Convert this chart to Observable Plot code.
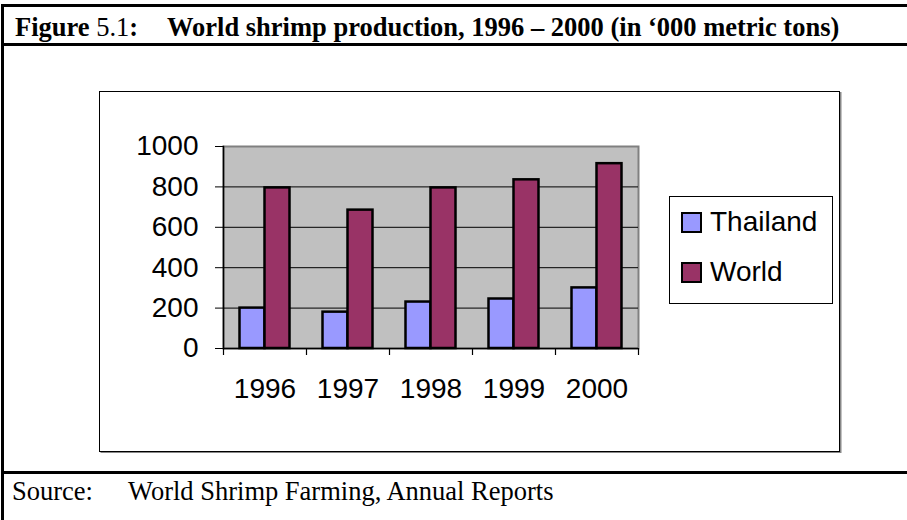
<!DOCTYPE html>
<html>
<head>
<meta charset="utf-8">
<script src="https://cdn.jsdelivr.net/npm/d3@7"></script>
<script src="https://cdn.jsdelivr.net/npm/@observablehq/plot@0.6"></script>
<style>
  html, body { margin: 0; padding: 0; background: #fff; }
  #page { position: relative; width: 907px; height: 520px; overflow: hidden; background: #fff; }
  .hline { position: absolute; left: 2px; right: 0; height: 2.5px; background: #000; }
  .vline { position: absolute; left: 1px; width: 2.5px; top: 4px; bottom: 0; background: #000; }
  .serif { font-family: "Liberation Serif", "Times New Roman", serif; color: #000; position: absolute; white-space: nowrap; line-height: 1; }
  #title1 { left: 15px; top: 14px; font-size: 26.5px; }
  #title2 { left: 167px; top: 14px; font-size: 26.5px; font-weight: bold; }
  #src1 { left: 12px; top: 478px; font-size: 26.5px; }
  #src2 { left: 128px; top: 478px; font-size: 26.5px; }
  #chartbox { position: absolute; left: 99px; top: 91px; width: 739px; height: 359px; border: 1.5px solid #000; box-shadow: 1.5px 1px 0 #888; background: #fff; }
  #plot { position: absolute; left: 0; top: 0; }
  #legend { position: absolute; left: 569px; top: 104px; width: 162px; height: 106px; border: 1px solid #000; background: #fff;
            font-family: "Liberation Sans", Arial, sans-serif; font-size: 28px; }
  .item { position: absolute; left: 11px; display: flex; align-items: center; }
  .sw { width: 17px; height: 17px; border: 2.5px solid #000; margin-right: 8px; }
</style>
</head>
<body>
<div id="page">
  <div class="hline" style="top:4px"></div>
  <div class="hline" style="top:43px"></div>
  <div class="hline" style="top:471px"></div>
  <div class="vline"></div>
  <div id="title1" class="serif"><b>Figure</b> 5.1<b>:</b></div>
  <div id="title2" class="serif">World shrimp production, 1996 – 2000 (in ‘000 metric tons)</div>
  <div id="chartbox">
    <div id="plot"></div>
    <div id="legend"></div>
  </div>
  <div id="src1" class="serif">Source:</div>
  <div id="src2" class="serif">World Shrimp Farming, Annual Reports</div>
</div>
<script>
const years = ["1996", "1997", "1998", "1999", "2000"];
const thailand = [200, 180, 230, 245, 300];
const world = [795, 685, 795, 835, 915];
const seriesNames = ["Thailand", "World"];
const seriesColors = ["#9999ff", "#993366"];
const yTicks = [0, 200, 400, 600, 800, 1000];

const W = 560, H = 360, mL = 123, mR = 22, mT = 54, mB = 104;
const band = (W - mL - mR) / years.length;
const barW = 25;
const half = band / 2;

const rows = [];
years.forEach((y, i) => {
  rows.push({year: y, series: "Thailand", value: thailand[i]});
  rows.push({year: y, series: "World", value: world[i]});
});

const chart = Plot.plot({
  width: W, height: H,
  marginLeft: mL, marginRight: mR, marginTop: mT, marginBottom: mB,
  style: {fontFamily: "'Liberation Sans', Arial, sans-serif", fontSize: "28px", color: "#000", background: "transparent", overflow: "visible"},
  x: {domain: years, padding: 0, axis: null, label: null},
  y: {domain: [0, 1000], axis: null, label: null},
  color: {domain: seriesNames, range: seriesColors},
  marks: [
    Plot.frame({fill: "#c0c0c0", stroke: "#808080", strokeWidth: 2}),
    Plot.ruleY(yTicks.slice(1, -1), {stroke: "#000", strokeWidth: 1}),
    Plot.frame({anchor: "left", stroke: "#000", strokeWidth: 1.5}),
    Plot.ruleY([0], {stroke: "#000", strokeWidth: 1.5}),
    Plot.axisY({ticks: yTicks, tickSize: 8, tickPadding: 17, tickFormat: d3.format("d"), fontSize: 28, label: null}),
    Plot.axisX({tickSize: 0, tickPadding: 30, fontSize: 28, label: null}),
    Plot.ruleX(years, {x: d => d, dx: -half, y1: () => 0, y2: () => 0, insetBottom: -7, stroke: "#000", strokeWidth: 1.2}),
    Plot.ruleX(years.slice(-1), {x: d => d, dx: half, y1: () => 0, y2: () => 0, insetBottom: -7, stroke: "#000", strokeWidth: 1.2}),
    Plot.barY(rows.filter(d => d.series === "Thailand"), {x: "year", y: "value", fill: "series", stroke: "#000", strokeWidth: 2.5,
      insetLeft: half - barW, insetRight: half}),
    Plot.barY(rows.filter(d => d.series === "World"), {x: "year", y: "value", fill: "series", stroke: "#000", strokeWidth: 2.5,
      insetLeft: half, insetRight: half - barW})
  ]
});
document.getElementById("plot").appendChild(chart);

const legend = document.getElementById("legend");
seriesNames.forEach((name, i) => {
  const item = document.createElement("div");
  item.className = "item";
  item.style.top = (i === 0 ? 9 : 59) + "px";
  const sw = document.createElement("div");
  sw.className = "sw";
  sw.style.background = seriesColors[i];
  const label = document.createElement("span");
  label.textContent = name;
  item.appendChild(sw);
  item.appendChild(label);
  legend.appendChild(item);
});
</script>
</body>
</html>
